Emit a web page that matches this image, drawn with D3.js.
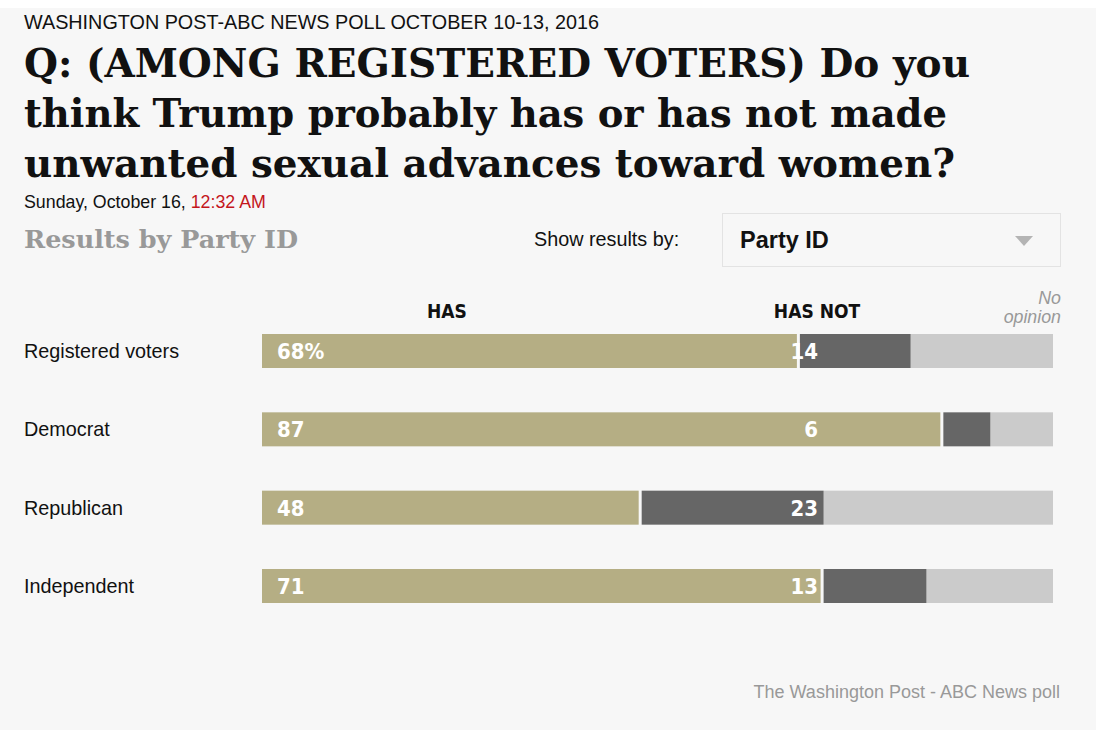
<!DOCTYPE html>
<html lang="en">
<head>
<meta charset="UTF-8">
<title>Washington Post-ABC News poll</title>
<script src="https://d3js.org/d3.v7.min.js"></script>
<style>
  body { margin: 0; background: #f7f7f7; }
  svg { display: block; }
  .sans { font-family: "Liberation Sans", Arial, Helvetica, sans-serif; }
  .serif { font-family: "DejaVu Serif", Georgia, serif; font-weight: bold; }
  .cond { font-family: "DejaVu Sans Condensed", "DejaVu Sans", sans-serif; font-weight: bold; font-stretch: condensed; }
</style>
</head>
<body>
<svg width="1096" height="730"></svg>
<script>
  // data
  const groups = ["Registered voters", "Democrat", "Republican", "Independent"];
  const hasVals = [68, 87, 48, 71];
  const hasNotVals = [14, 6, 23, 13];
  const noOpinionVals = [18, 8, 29, 16];
  const titleLines = [
    "Q: (AMONG REGISTERED VOTERS) Do you",
    "think Trump probably has or has not made",
    "unwanted sexual advances toward women?"
  ];

  const svg = d3.select("svg");
  svg.append("rect").attr("width", 1096).attr("height", 730).attr("fill", "#f7f7f7");
  svg.append("rect").attr("width", 1096).attr("height", 8).attr("fill", "#ffffff");

  // header
  svg.append("text").attr("class", "sans")
    .attr("x", 24).attr("y", 29).attr("font-size", 19.8).attr("fill", "#111")
    .text("WASHINGTON POST-ABC NEWS POLL OCTOBER 10-13, 2016");

  const titleWidths = [946, 923, 931];
  svg.append("g").selectAll("text").data(titleLines).join("text")
    .attr("class", "serif")
    .attr("x", 24).attr("y", (d, i) => 77 + i * 50)
    .attr("font-size", 39).attr("fill", "#111")
    .attr("textLength", (d, i) => titleWidths[i]).attr("lengthAdjust", "spacingAndGlyphs")
    .text(d => d);

  const date = svg.append("text").attr("class", "sans")
    .attr("x", 24).attr("y", 208).attr("font-size", 17.8).attr("fill", "#111");
  date.append("tspan").text("Sunday, October 16, ");
  date.append("tspan").attr("fill", "#c4161c").text("12:32 AM");

  svg.append("text").attr("class", "serif")
    .attr("x", 24).attr("y", 248).attr("font-size", 25).attr("fill", "#999")
    .attr("textLength", 274).attr("lengthAdjust", "spacingAndGlyphs")
    .text("Results by Party ID");

  svg.append("text").attr("class", "sans")
    .attr("x", 534).attr("y", 246).attr("font-size", 19.8).attr("fill", "#111")
    .text("Show results by:");

  svg.append("rect").attr("x", 722.5).attr("y", 213.5).attr("width", 338).attr("height", 53)
    .attr("fill", "#f7f7f7").attr("stroke", "#e3e3e3");
  svg.append("text").attr("class", "sans")
    .attr("x", 740).attr("y", 248).attr("font-size", 23.5).attr("font-weight", "bold").attr("fill", "#111")
    .text("Party ID");
  svg.append("path").attr("d", "M1015,236L1033,236L1024,246Z").attr("fill", "#b4b4b4");

  // bars
  const left = 262, right = 1053;
  const y = d3.scaleBand().domain(groups).range([334, 603]).paddingInner(0.566).paddingOuter(0);
  const rows = groups.map((g, i) => {
    const total = hasVals[i] + hasNotVals[i] + noOpinionVals[i];
    const x = d3.scaleLinear().domain([0, total]).range([left, right]);
    return { g, has: hasVals[i], hasNot: hasNotVals[i], no: noOpinionVals[i], x };
  });

  const colHas = "#b5ae84", colHasNot = "#666666", colNo = "#cbcbcb";

  const row = svg.append("g").selectAll("g").data(rows).join("g")
    .attr("transform", d => `translate(0,${y(d.g)})`);
  const bh = y.bandwidth();

  row.append("rect")
    .attr("x", d => d.x(d.has + d.hasNot))
    .attr("width", d => d.x(d.has + d.hasNot + d.no) - d.x(d.has + d.hasNot))
    .attr("height", bh).attr("fill", colNo);
  row.append("rect")
    .attr("x", d => d.x(d.has))
    .attr("width", d => d.x(d.has + d.hasNot) - d.x(d.has))
    .attr("height", bh).attr("fill", colHasNot);
  row.append("rect")
    .attr("x", d => d.x(0))
    .attr("width", d => d.x(d.has) - d.x(0) - 3)
    .attr("height", bh).attr("fill", colHas);

  row.append("text").attr("class", "sans")
    .attr("x", 24).attr("y", bh / 2 + 7).attr("font-size", 19.8).attr("fill", "#111")
    .text(d => d.g);

  row.append("text").attr("class", "cond")
    .attr("x", 277).attr("y", bh / 2 + 8).attr("font-size", 22).attr("fill", "#fff")
    .text((d, i) => i === 0 ? d.has + "%" : d.has);
  row.append("text").attr("class", "cond")
    .attr("x", 818).attr("y", bh / 2 + 8).attr("font-size", 22).attr("fill", "#fff")
    .attr("text-anchor", "end")
    .text(d => d.hasNot);

  // column headers
  svg.append("text").attr("class", "cond")
    .attr("x", 447).attr("y", 318).attr("font-size", 19).attr("fill", "#111")
    .attr("text-anchor", "middle").text("HAS");
  svg.append("text").attr("class", "cond")
    .attr("x", 817).attr("y", 318).attr("font-size", 19).attr("fill", "#111")
    .attr("text-anchor", "middle").text("HAS NOT");
  svg.append("text").attr("class", "sans")
    .attr("font-size", 17.8).attr("font-style", "italic").attr("fill", "#999")
    .attr("text-anchor", "end")
    .selectAll("tspan").data(["No", "opinion"]).join("tspan")
    .attr("x", 1061).attr("y", (d, i) => 304 + i * 19).text(d => d);

  // footer
  svg.append("text").attr("class", "sans")
    .attr("x", 1060).attr("y", 698).attr("font-size", 18).attr("fill", "#999")
    .attr("text-anchor", "end").text("The Washington Post - ABC News poll");
</script>
</body>
</html>
